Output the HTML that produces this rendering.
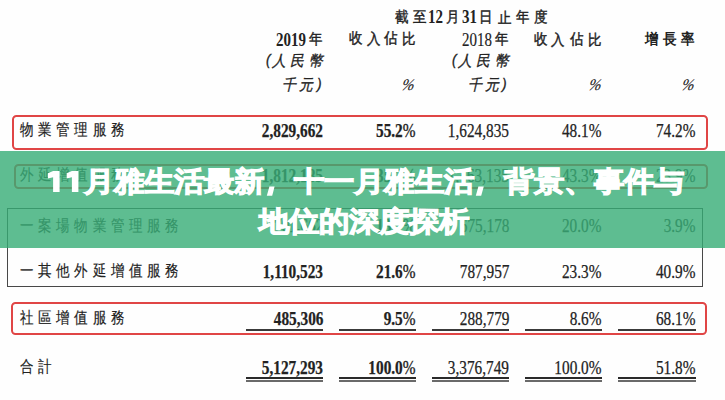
<!DOCTYPE html>
<html><head><meta charset="utf-8">
<style>
html,body{margin:0;padding:0;}
body{width:725px;height:400px;overflow:hidden;background:#fefefe;position:relative;font-family:"Liberation Serif",serif;color:#222;}
.a{position:absolute;white-space:nowrap;line-height:1;}
.ser{font-family:"Liberation Serif",serif;letter-spacing:0;}
.cj{font-family:"Liberation Sans",sans-serif;font-size:14.5px;letter-spacing:3.2px;color:#222;}
.lab{-webkit-text-stroke:0.15px #222;font-size:14.5px;letter-spacing:4.5px;transform:scale(0.93,1.1);transform-origin:0 50%;}
.n{font-family:"Liberation Serif",serif;font-size:18px;-webkit-text-stroke:0.25px #222;transform:scaleX(0.85);transform-origin:100% 50%;}
.b{font-weight:bold;}
.g{position:absolute;white-space:nowrap;line-height:1;transform-origin:0 0;color:#222;}
.hc{font-family:"Liberation Sans",sans-serif;-webkit-text-stroke:0.4px #222;}
.hb{font-family:"Liberation Sans",sans-serif;font-weight:bold;}
.hi{font-family:"Liberation Sans",sans-serif;font-style:italic;-webkit-text-stroke:0.3px #222;}
.hd{font-family:"Liberation Serif",serif;font-weight:bold;}
.pn{font-weight:normal;-webkit-text-stroke:0.35px #222;}
.hr{font-family:"Liberation Serif",serif;-webkit-text-stroke:0.15px #222;}
.hp{font-family:"Liberation Serif",serif;font-style:italic;-webkit-text-stroke:0.1px #222;}
.hp{margin-left:0}
.it{font-style:italic;}
.ub{color:#333;-webkit-text-stroke-color:#333;}
.box{position:absolute;box-sizing:border-box;}
.red{border:2px solid #e04545;border-radius:4.5px;}
.dk{border:1.3px solid #484848;}
.ul{position:absolute;height:1.6px;background:#3a3a3a;}
.dul{position:absolute;height:2.3px;background:#2a2a2a;}
.dul2{position:absolute;height:1.4px;background:#6a6a6a;}
.banner{position:absolute;left:0;top:150.8px;width:725px;height:97.7px;background:rgba(54,172,118,0.8);}
.title{position:absolute;font-family:"Liberation Sans",sans-serif;font-weight:bold;font-size:30px;color:#fff;line-height:1;-webkit-text-stroke:1.2px #fff;transform:scaleY(0.92);transform-origin:0 50%;}
.cm{display:inline-block;width:30px;}
</style></head><body>
<div class="g hc" style="left:395.05px;top:9.35px;font-size:14.5px;transform:scale(0.95,1.06)">截</div>
<div class="g hc" style="left:412.55px;top:9.35px;font-size:14.5px;transform:scale(0.95,1.06)">至</div>
<div class="g hd" style="left:427.50px;top:7.85px;font-size:17px;transform:scale(0.88,1.08)">12</div>
<div class="g hc" style="left:446.30px;top:8.85px;font-size:14.5px;transform:scale(0.95,1.06)">月</div>
<div class="g hd" style="left:462.40px;top:7.85px;font-size:17px;transform:scale(0.88,1.08)">31</div>
<div class="g hc" style="left:479.15px;top:8.85px;font-size:14.5px;transform:scale(0.95,1.06)">日</div>
<div class="g hc" style="left:497.95px;top:9.85px;font-size:14.5px;transform:scale(0.95,1.06)">止</div>
<div class="g hc" style="left:515.80px;top:8.85px;font-size:14.5px;transform:scale(0.95,1.06)">年</div>
<div class="g hc" style="left:533.85px;top:9.35px;font-size:14.5px;transform:scale(0.95,1.06)">度</div>
<div class="g hd" style="left:276.10px;top:30.65px;font-size:17px;transform:scale(0.88,1.08)">2019</div>
<div class="g hc" style="left:309.35px;top:31.05px;font-size:14.5px;transform:scale(0.95,1.06)">年</div>
<div class="g hc" style="left:349.25px;top:30.30px;font-size:14.5px;transform:scale(0.95,1.06)">收</div>
<div class="g hc" style="left:366.55px;top:30.80px;font-size:14.5px;transform:scale(0.95,1.06)">入</div>
<div class="g hc" style="left:384.35px;top:30.30px;font-size:14.5px;transform:scale(0.95,1.06)">佔</div>
<div class="g hc" style="left:401.50px;top:30.80px;font-size:14.5px;transform:scale(0.95,1.06)">比</div>
<div class="g hr" style="left:461.60px;top:31.40px;font-size:17px;transform:scale(0.88,1.08)">2018</div>
<div class="g hc" style="left:495.25px;top:30.55px;font-size:14.5px;transform:scale(0.95,1.06)">年</div>
<div class="g hc" style="left:534.40px;top:31.05px;font-size:14.5px;transform:scale(0.95,1.06)">收</div>
<div class="g hc" style="left:551.30px;top:31.55px;font-size:14.5px;transform:scale(0.95,1.06)">入</div>
<div class="g hc" style="left:569.75px;top:31.05px;font-size:14.5px;transform:scale(0.95,1.06)">佔</div>
<div class="g hc" style="left:587.55px;top:31.55px;font-size:14.5px;transform:scale(0.95,1.06)">比</div>
<div class="g hb" style="left:645.15px;top:30.55px;font-size:14.5px;transform:scale(0.95,1.06)">增</div>
<div class="g hb" style="left:662.85px;top:30.55px;font-size:14.5px;transform:scale(0.95,1.06)">長</div>
<div class="g hb" style="left:681.40px;top:31.05px;font-size:14.5px;transform:scale(0.95,1.06)">率</div>
<div class="g hi" style="left:451.50px;top:51.90px;font-size:14.5px;transform:scale(0.95,1.06)">(</div>
<div class="g hi" style="left:457.65px;top:52.90px;font-size:14.5px;transform:scale(0.95,1.06)">人</div>
<div class="g hi" style="left:475.90px;top:52.90px;font-size:14.5px;transform:scale(0.95,1.06)">民</div>
<div class="g hi" style="left:494.60px;top:53.40px;font-size:14.5px;transform:scale(0.95,1.06)">幣</div>
<div class="g hi" style="left:467.85px;top:77.20px;font-size:14.5px;transform:scale(0.95,1.06)">千</div>
<div class="g hi" style="left:485.00px;top:76.70px;font-size:14.5px;transform:scale(0.95,1.06)">元</div>
<div class="g hi" style="left:502.10px;top:75.70px;font-size:14.5px;transform:scale(0.95,1.06)">)</div>
<div class="g hi" style="left:265.70px;top:51.90px;font-size:14.5px;transform:scale(0.95,1.06)">(</div>
<div class="g hi" style="left:271.85px;top:52.90px;font-size:14.5px;transform:scale(0.95,1.06)">人</div>
<div class="g hi" style="left:290.10px;top:52.90px;font-size:14.5px;transform:scale(0.95,1.06)">民</div>
<div class="g hi" style="left:308.80px;top:53.40px;font-size:14.5px;transform:scale(0.95,1.06)">幣</div>
<div class="g hi" style="left:282.05px;top:77.20px;font-size:14.5px;transform:scale(0.95,1.06)">千</div>
<div class="g hi" style="left:299.20px;top:76.70px;font-size:14.5px;transform:scale(0.95,1.06)">元</div>
<div class="g hi" style="left:317.30px;top:75.70px;font-size:14.5px;transform:scale(0.95,1.06)">)</div>
<div class="g hp" style="left:403.90px;top:76.50px;font-size:15px;transform:scale(1.0,1.08) skewX(-14deg)">%</div>
<div class="g hp" style="left:591.40px;top:76.50px;font-size:15px;transform:scale(1.0,1.08) skewX(-14deg)">%</div>
<div class="g hp" style="left:684.20px;top:76.50px;font-size:15px;transform:scale(1.0,1.08) skewX(-14deg)">%</div>
<div class="box red" style="left:12.3px;top:114.5px;width:696px;height:35.5px;"></div>
<div class="box red" style="left:14px;top:164px;width:694px;height:25px;"></div>
<div class="box dk" style="left:7px;top:208px;width:696px;height:79px;"></div>
<div class="box red" style="left:11px;top:302px;width:696px;height:33px;"></div>
<div class="a cj lab" style="left:20px;top:123px;">物業管理服務</div>
<div class="a n b" style="right:402px;top:122px;">2,829,662</div>
<div class="a n b" style="right:310px;top:122px;">55.2<span class="pn">%</span></div>
<div class="a n" style="right:216px;top:122px;">1,624,835</div>
<div class="a n" style="right:123.5px;top:122px;">48.1%</div>
<div class="a n" style="right:30px;top:122px;">74.2%</div>
<div class="a cj lab ub" style="left:20px;top:168px;">外延增值服務</div>
<div class="a n b ub" style="right:402px;top:167px;">1,812,185</div>
<div class="a n b ub" style="right:310px;top:167px;">35.3<span class="pn">%</span></div>
<div class="a n ub" style="right:216px;top:167px;">1,463,135</div>
<div class="a n ub" style="right:123.5px;top:167px;">43.3%</div>
<div class="a n ub" style="right:30px;top:167px;">23.9%</div>
<div class="a cj lab ub" style="left:20px;top:219px;">一案場物業管理服務</div>
<div class="a n b ub" style="right:402px;top:217px;">701,662</div>
<div class="a n b ub" style="right:310px;top:217px;">13.7<span class="pn">%</span></div>
<div class="a n ub" style="right:216px;top:217px;">675,178</div>
<div class="a n ub" style="right:123.5px;top:217px;">20.0%</div>
<div class="a n ub" style="right:30px;top:217px;">3.9%</div>
<div class="a cj lab" style="left:20px;top:264px;">一其他外延增值服務</div>
<div class="a n b" style="right:402px;top:263px;">1,110,523</div>
<div class="a n b" style="right:310px;top:263px;">21.6<span class="pn">%</span></div>
<div class="a n" style="right:216px;top:263px;">787,957</div>
<div class="a n" style="right:123.5px;top:263px;">23.3%</div>
<div class="a n" style="right:30px;top:263px;">40.9%</div>
<div class="a cj lab" style="left:20px;top:310.5px;">社區增值服務</div>
<div class="a n b" style="right:402px;top:310px;">485,306</div>
<div class="a n b" style="right:310px;top:310px;">9.5<span class="pn">%</span></div>
<div class="a n" style="right:216px;top:310px;">288,779</div>
<div class="a n" style="right:123.5px;top:310px;">8.6%</div>
<div class="a n" style="right:30px;top:310px;">68.1%</div>
<div class="a cj lab" style="left:20px;top:360px;">合計</div>
<div class="a n b" style="right:402px;top:359px;">5,127,293</div>
<div class="a n b" style="right:310px;top:359px;">100.0<span class="pn">%</span></div>
<div class="a n" style="right:216px;top:359px;">3,376,749</div>
<div class="a n" style="right:123.5px;top:359px;">100.0%</div>
<div class="a n" style="right:30px;top:359px;">51.8%</div>
<div class="ul" style="left:246px;top:329px;width:77px;"></div>
<div class="dul" style="left:246px;top:377px;width:77px;"></div>
<div class="dul2" style="left:246px;top:380.3px;width:77px;"></div>
<div class="ul" style="left:339px;top:329px;width:77px;"></div>
<div class="dul" style="left:339px;top:377px;width:77px;"></div>
<div class="dul2" style="left:339px;top:380.3px;width:77px;"></div>
<div class="ul" style="left:432px;top:329px;width:77px;"></div>
<div class="dul" style="left:432px;top:377px;width:77px;"></div>
<div class="dul2" style="left:432px;top:380.3px;width:77px;"></div>
<div class="ul" style="left:525px;top:329px;width:76.5px;"></div>
<div class="dul" style="left:525px;top:377px;width:76.5px;"></div>
<div class="dul2" style="left:525px;top:380.3px;width:76.5px;"></div>
<div class="ul" style="left:618px;top:329px;width:78px;"></div>
<div class="dul" style="left:618px;top:377px;width:78px;"></div>
<div class="dul2" style="left:618px;top:380.3px;width:78px;"></div>

<div class="banner"></div>
<div class="title" style="left:84px;top:167px;">月雅生活最新<span class="cm"></span>十一月雅生活<span class="cm"></span>背景、事件与</div>
<div class="title" style="left:259px;top:207px;">地位的深度探析</div>
<svg style="position:absolute;left:0;top:0" width="725" height="400" viewBox="0 0 725 400">
<g fill="#fff">
<polygon points="47.9,173.2 53.1,170.9 59.6,170.9 59.6,191.9 53.1,191.9 53.1,177.2 47.9,178.6"/>
<polygon points="66.7,173.2 71.9,170.9 78.4,170.9 78.4,191.9 71.9,191.9 71.9,177.2 66.7,178.6"/>
<path d="M269.4,186.4 L274.6,186.4 L272.2,195.8 L266.8,195.8 Z"/>
<path d="M478.4,186.4 L483.8,186.4 L481.2,195.8 L475.8,195.8 Z"/>
</g></svg>

</body></html>
